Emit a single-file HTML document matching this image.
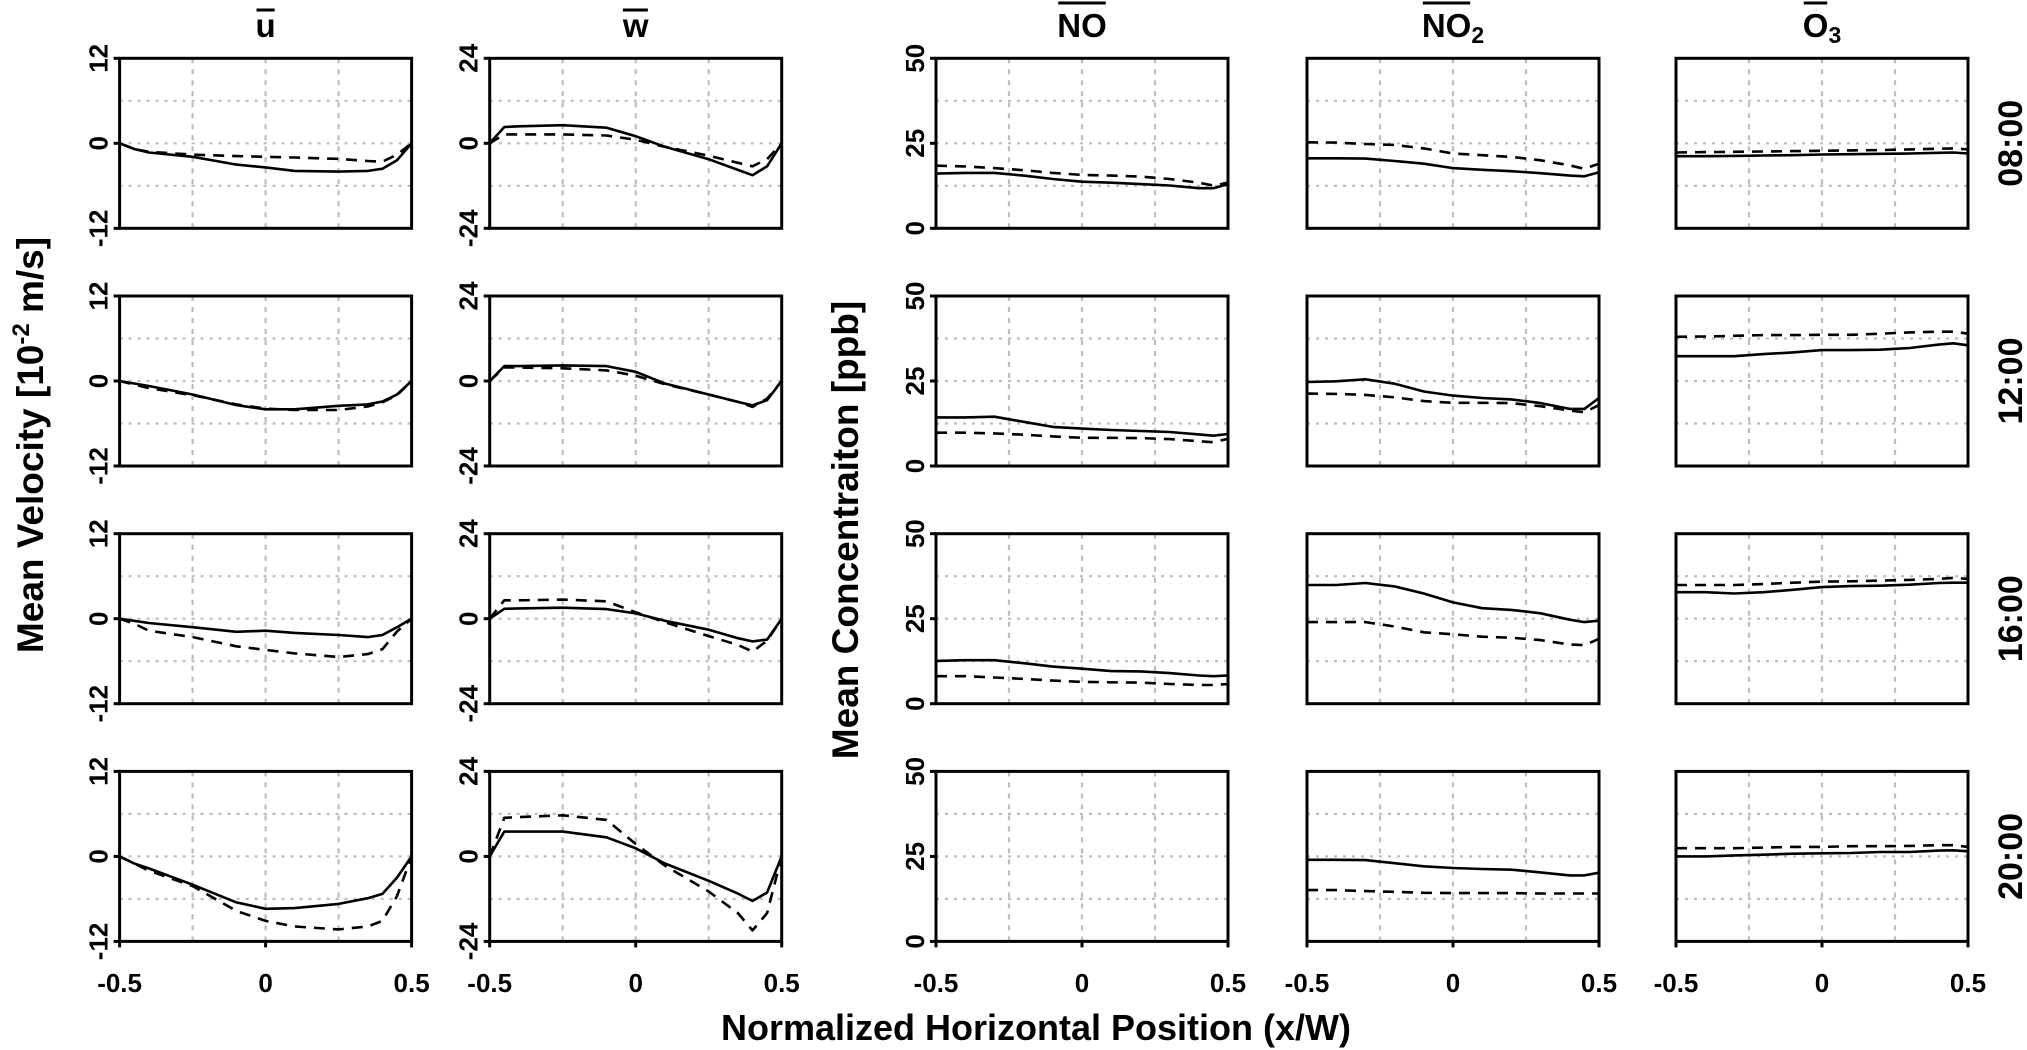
<!DOCTYPE html>
<html><head><meta charset="utf-8"><style>
html,body{margin:0;padding:0;background:#fff;}
svg{display:block;font-family:"Liberation Sans",Arial,sans-serif;font-weight:bold;}
</style></head><body>
<svg id="fig" width="2027" height="1050" viewBox="0 0 2027 1050"></svg>
<script>
// ---- data ----
const XV = [-0.5,-0.45,-0.4,-0.25,-0.1,0,0.1,0.25,0.35,0.4,0.45,0.5];
const XC = [-0.5,-0.4,-0.3,-0.2,-0.1,0,0.1,0.2,0.3,0.4,0.45,0.5];
const rowLabels = ["08:00","12:00","16:00","20:00"];
const xTicks = [-0.5,0,0.5];
const xTickLabels = ["-0.5","0","0.5"];
const uTicks = ["12","0","-12"];
const wTicks = ["24","0","-24"];
const cTicks = ["50","25","0"];

const u1s=[0,-0.8,-1.3,-1.9,-3.0,-3.4,-3.9,-4.0,-3.9,-3.6,-2.4,0];
const u1d=[0,-0.8,-1.2,-1.6,-1.8,-1.9,-2.0,-2.2,-2.5,-2.6,-1.6,0];
const u2s=[0,-0.35,-0.7,-1.9,-3.4,-4.0,-4.0,-3.5,-3.3,-2.9,-1.9,0];
const u2d=[0,-0.5,-1.0,-2.0,-3.3,-3.9,-4.1,-4.1,-3.6,-3.0,-2.0,0];
const u3s=[0,-0.3,-0.6,-1.2,-1.85,-1.7,-2.0,-2.3,-2.6,-2.3,-1.2,0];
const u3d=[0,-0.7,-1.7,-2.6,-3.9,-4.4,-4.9,-5.4,-5.0,-4.3,-1.8,0];
const u4s=[0,-1.0,-1.7,-4.0,-6.5,-7.4,-7.3,-6.7,-5.9,-5.3,-3.0,0];
const u4d=[0,-1.0,-2.0,-4.2,-7.7,-9.1,-9.9,-10.3,-9.9,-9.1,-5.6,0];

const w1s=[0,4.6,4.8,5.1,4.4,2.0,-1.0,-4.5,-7.5,-9.0,-6.5,0];
const w1d=[0,2.5,2.5,2.5,2.2,1.0,-1.0,-3.5,-5.5,-6.5,-4.5,0];
const w2s=[0,4.2,4.2,4.4,4.2,2.6,-0.7,-3.8,-5.9,-6.9,-5.4,0];
const w2d=[0,3.8,3.8,3.6,3.0,1.5,-0.9,-3.8,-5.9,-7.3,-5.0,0];
const w3s=[0,2.8,2.9,3.1,2.7,1.5,-0.6,-3.1,-5.5,-6.4,-5.9,0];
const w3d=[0,5.2,5.2,5.4,4.9,1.8,-1.0,-4.9,-7.4,-9.3,-6.2,0];
const w4s=[0,7.0,7.0,7.0,5.4,2.3,-2.0,-6.9,-10.5,-12.6,-10.2,0];
const w4d=[0,10.9,11.1,11.6,10.3,3.5,-2.6,-9.9,-16,-20.9,-16,0];

const no1s=[16.1,16.3,16.3,15.5,14.5,13.7,13.4,13.0,12.6,11.8,11.8,13.0];
const no1d=[18.4,18.2,17.7,17.1,16.3,15.7,15.5,15.2,14.5,13.4,12.6,13.4];
const no2s=[14.3,14.3,14.5,13.0,11.5,11.0,10.6,10.3,10.0,9.3,8.9,9.4];
const no2d=[9.8,9.8,9.6,9.2,8.7,8.3,8.3,8.2,7.9,7.3,7.0,8.0];
const no3s=[12.6,12.8,12.8,11.9,10.9,10.3,9.6,9.5,9.0,8.3,8.1,8.3];
const no3d=[8.1,8.1,7.7,7.3,6.8,6.4,6.3,6.2,5.8,5.5,5.5,5.8];

const n21s=[20.6,20.6,20.5,19.8,19.0,17.7,17.2,16.8,16.2,15.5,15.3,16.5];
const n21d=[25.3,25.2,24.8,24.5,23.5,22.0,21.5,21.0,20.0,18.5,17.5,19.0];
const n22s=[24.7,24.9,25.5,24.2,21.9,20.7,20.0,19.6,18.5,16.8,16.8,20.0];
const n22d=[21.3,21.2,20.9,20.2,19.1,18.6,18.6,18.5,17.6,16.3,15.8,17.9];
const n23s=[34.9,34.9,35.5,34.5,32.4,29.8,28.1,27.6,26.6,24.7,24.0,24.4];
const n23d=[24.0,24.0,24.0,22.7,21.0,20.4,19.7,19.4,18.7,17.4,17.2,19.1];
const n24s=[24.0,24.0,23.9,23.0,22.1,21.6,21.3,21.1,20.3,19.4,19.4,20.2];
const n24d=[15.1,15.1,14.8,14.6,14.3,14.2,14.2,14.2,14.1,14.1,14.1,14.1];

const o1s=[21.2,21.2,21.3,21.4,21.5,21.7,21.8,21.9,22.0,22.2,22.3,22.0];
const o1d=[22.3,22.4,22.5,22.6,22.7,22.8,22.9,23.0,23.2,23.4,23.5,23.2];
const o2s=[32.3,32.3,32.3,32.9,33.4,34.1,34.1,34.2,34.7,35.7,36.1,35.5];
const o2d=[38.0,38.1,38.3,38.5,38.5,38.6,38.6,38.9,39.3,39.5,39.5,38.9];
const o3s=[32.8,32.8,32.4,32.8,33.5,34.3,34.6,34.7,35.0,35.5,35.6,35.6];
const o3d=[34.9,34.9,34.9,35.2,35.6,35.9,36.0,36.2,36.4,36.7,37.0,36.7];
const o4s=[25.0,25.0,25.3,25.5,25.8,25.9,26.0,26.3,26.3,26.7,26.8,26.5];
const o4d=[27.4,27.4,27.4,27.6,27.8,27.8,28.0,28.0,28.1,28.3,28.3,27.8];

// ---- layout ----
const NS="http://www.w3.org/2000/svg";
const svg=document.getElementById('fig');
const colLeft=[119.6,489.7,936,1307,1676];
const PW=292, PH=170;
const rowTop=[58.3,296,533.7,771.4];
const cols=[
 {key:'u',title:'u',lower:true,min:-12,max:12,ticks:uTicks,x:XV,s:[u1s,u2s,u3s,u4s],d:[u1d,u2d,u3d,u4d]},
 {key:'w',title:'w',lower:true,min:-24,max:24,ticks:wTicks,x:XV,s:[w1s,w2s,w3s,w4s],d:[w1d,w2d,w3d,w4d]},
 {key:'no',title:'NO',min:0,max:50,ticks:cTicks,x:XC,s:[no1s,no2s,no3s,null],d:[no1d,no2d,no3d,null]},
 {key:'no2',title:'NO',sub:'2',min:0,max:50,ticks:null,x:XC,s:[n21s,n22s,n23s,n24s],d:[n21d,n22d,n23d,n24d]},
 {key:'o3',title:'O',sub:'3',min:0,max:50,ticks:null,x:XC,s:[o1s,o2s,o3s,o4s],d:[o1d,o2d,o3d,o4d]}
];
function mk(tag,attrs,parent){const e=document.createElementNS(NS,tag);for(const k in attrs)e.setAttribute(k,attrs[k]);(parent||svg).appendChild(e);return e;}

cols.forEach((c,ci)=>{
  const L=colLeft[ci];
  const t=mk('text',{x:L+PW/2,y:37,'text-anchor':'middle','font-size':33});
  
  
  t.appendChild(document.createTextNode(c.title));
  if(c.sub){const ts=mk('tspan',{'font-size':23,'dy':6},t);ts.textContent=c.sub;}
  const bb=t.getBBox();
  const titleEnd=c.sub? bb.x+bb.width-13 : bb.x+bb.width;
  const ol=mk('line',{x1:bb.x+1,x2:titleEnd-1,y1:c.lower?10:3,y2:c.lower?10:3,stroke:'#000','stroke-width':3});
  
  

  for(let r=0;r<4;r++){
    const T=rowTop[r];
    const g=mk('g',{});
    
    
    const sx=v=>L+(v+0.5)*PW;
    const sy=v=>T+PH-(v-c.min)/(c.max-c.min)*PH;
    for(let k=1;k<4;k++){
      const gx=mk('line',{x1:L+PW*k/4,x2:L+PW*k/4,y1:T,y2:T+PH,stroke:'#bdbdbd','stroke-width':2.2,'stroke-dasharray':'5,6'},g);
      
      
      const gy=mk('line',{x1:L,x2:L+PW,y1:T+PH*k/4,y2:T+PH*k/4,stroke:'#bdbdbd','stroke-width':2.2,'stroke-dasharray':'3,6'},g);
      
      
    }
    const series=[[c.s[r],'solid'],[c.d[r],'dashed']];
    series.forEach(([arr,kind])=>{
      if(!arr) return;
      const pts=arr.map((v,i)=>sx(c.x[i]).toFixed(1)+','+sy(v).toFixed(1)).join(' ');
      const pl=mk('polyline',{points:pts,fill:'none',stroke:'#000','stroke-width':2.6,'stroke-linejoin':'round'},g);
      if(kind==='dashed') pl.setAttribute('stroke-dasharray','11,8');
      
      
    });
    const fr=mk('rect',{x:L,y:T,width:PW,height:PH,fill:'none',stroke:'#000','stroke-width':3},g);
    
    
    if(c.ticks){
      c.ticks.forEach((lab,k)=>{
        const y=T+PH*k/2;
        const tk=mk('line',{x1:L-6,x2:L,y1:y,y2:y,stroke:'#000','stroke-width':3},g);
        
        
        const bx=L-12;
        const tl=mk('text',{x:bx,y:y,'text-anchor':'middle','font-size':26,transform:`rotate(-90 ${bx} ${y})`},g);
        
        
        tl.textContent=lab;
      });
    }
    if(r===3){
      xTicks.forEach((v,k)=>{
        const x=sx(v);
        const tk=mk('line',{x1:x,x2:x,y1:T+PH,y2:T+PH+6,stroke:'#000','stroke-width':3},g);
        
        
        const tl=mk('text',{x:x,y:992,'text-anchor':'middle','font-size':26},g);
        
        
        tl.textContent=xTickLabels[k];
      });
    }
  }
});
rowLabels.forEach((lab,r)=>{
  const y=rowTop[r]+PH/2, x=2022;
  const t=mk('text',{x:x,y:y,'text-anchor':'middle','font-size':34,transform:`rotate(-90 ${x} ${y})`});
  
  
  t.textContent=lab;
});
</script>
<script>
(function(){
const NS="http://www.w3.org/2000/svg";
const svg=document.getElementById('fig');
function txt(attrs){const e=document.createElementNS(NS,'text');for(const k in attrs)e.setAttribute(k,attrs[k]);svg.appendChild(e);return e;}
const v=txt({x:43,y:445,'text-anchor':'middle','font-size':37,transform:'rotate(-90 43 445)'});


v.appendChild(document.createTextNode('Mean Velocity [10'));
const sup=document.createElementNS(NS,'tspan');sup.setAttribute('font-size','24');sup.setAttribute('dy','-14');sup.textContent='-2';v.appendChild(sup);
const rest=document.createElementNS(NS,'tspan');rest.setAttribute('dy','14');rest.textContent=' m/s]';v.appendChild(rest);
const c=txt({x:858,y:530,'text-anchor':'middle','font-size':37,transform:'rotate(-90 858 530)'});


c.textContent='Mean Concentraiton [ppb]';
const x=txt({x:1036,y:1040,'text-anchor':'middle','font-size':36});


x.textContent='Normalized Horizontal Position (x/W)';
})();
</script>
</body></html>
